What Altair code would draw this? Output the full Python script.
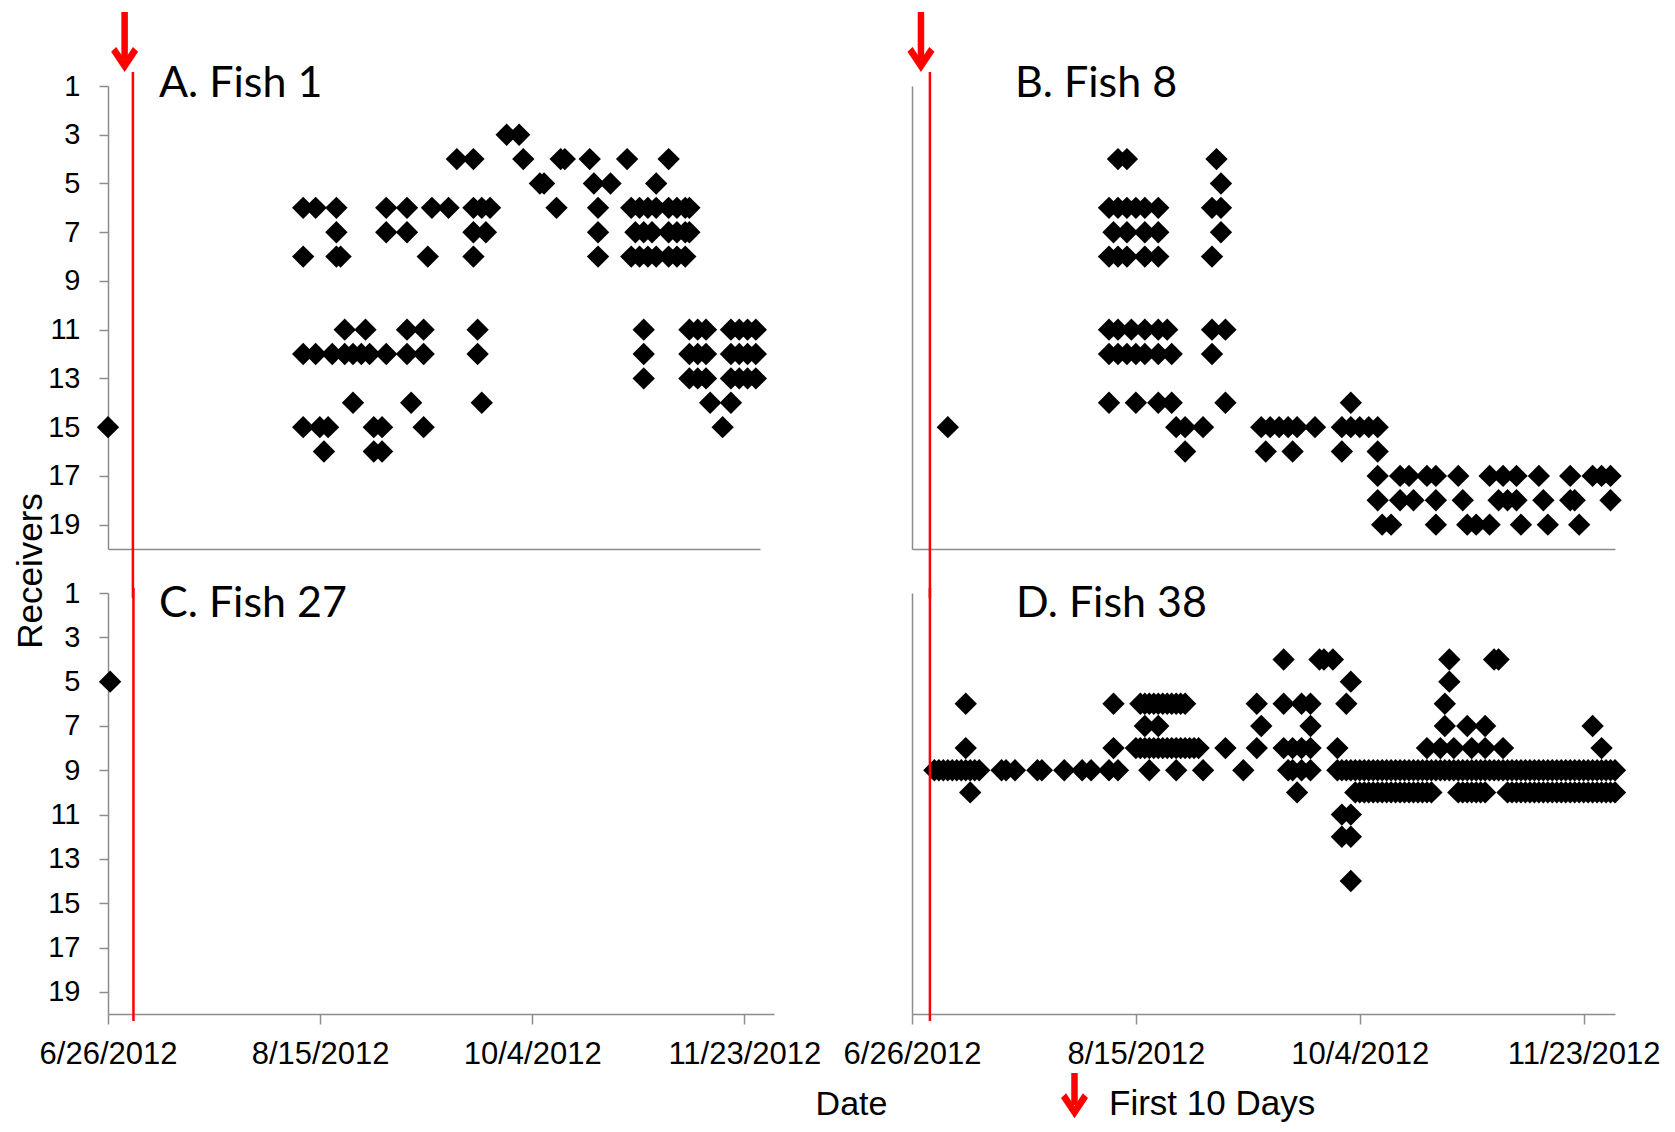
import altair as alt
import pandas as pd

# ---------------- data ----------------
START_DATE = "2012-06-26"
AXIS_END_DATE = "2012-11-30"
DATE_TICKS = ["2012-06-26", "2012-08-15", "2012-10-04", "2012-11-23"]
RECEIVER_TICKS = [1, 3, 5, 7, 9, 11, 13, 15, 17, 19]
PANEL_TITLES = ["A. Fish 1", "B. Fish 8", "C. Fish 27", "D. Fish 38"]

# detections: receiver -> days since 6/26/2012
FISH_1 = {
    3: [96, 99],
    4: [84, 88, 100, 109, 110, 116, 125, 135],
    5: [104, 105, 117, 121, 132],
    6: [47, 50, 55, 67, 72, 78, 82, 88, 90, 92, 108, 118, 126, 128, 130, 132, 135, 137, 139, 140],
    7: [55, 67, 72, 88, 91, 118, 127, 129, 131, 135, 137, 139, 140],
    8: [47, 55, 56, 77, 88, 118, 126, 128, 130, 132, 135, 137, 139],
    11: [57, 62, 72, 76, 89, 129, 140, 142, 144, 150, 152, 154, 156],
    12: [47, 50, 54, 57, 59, 61, 63, 67, 72, 76, 89, 129, 140, 142, 144, 150, 152, 154, 156],
    13: [129, 140, 142, 144, 150, 152, 154, 156],
    14: [59, 73, 90, 145, 150],
    15: [0, 47, 51, 53, 64, 66, 76, 148],
    16: [52, 64, 66],
}
FISH_8 = {
    4: [46, 48, 68],
    5: [69],
    6: [44, 46, 48, 50, 52, 55, 67, 69],
    7: [45, 48, 52, 55, 69],
    8: [44, 46, 48, 52, 55, 67],
    11: [44, 46, 49, 52, 55, 57, 67, 70],
    12: [44, 46, 48, 50, 52, 55, 58, 67],
    14: [44, 50, 55, 58, 70, 98],
    15: [8, 59, 61, 65, 78, 80, 82, 84, 86, 90, 96, 98, 100, 102, 104],
    16: [61, 79, 85, 96, 104],
    17: [104, 109, 111, 115, 117, 122, 129, 132, 135, 140, 147, 152, 154, 156],
    18: [104, 109, 112, 117, 123, 131, 133, 135, 141, 147, 148, 156],
    19: [105, 107, 117, 124, 126, 129, 136, 142, 149],
}
FISH_27 = {
    5: [0.5],
}
FISH_38 = {
    4: [83, 91, 92, 94, 120, 130, 131],
    5: [98, 120],
    6: [12, 45, 51, 52, 53, 54, 55, 56, 57, 58, 59, 60, 61, 77, 83, 87, 89, 97, 119],
    7: [52, 55, 78, 89, 119, 124, 128, 152],
    8: [12, 45, 50, 51, 52, 53, 54, 55, 56, 57, 58, 59, 60, 61, 62, 63, 64, 70, 77,
        83, 85, 87, 89, 95, 115, 118, 121, 125, 128, 132, 154],
    9: [5, 6, 7, 8, 9, 10, 11, 12, 13, 14, 15, 20, 21, 23, 28, 29, 34, 38, 40, 44, 46,
        53, 59, 65, 74, 84, 85, 87, 89,
        95, 96, 97, 98, 99, 100, 101, 102, 103, 104, 105, 106, 107, 108, 109, 110,
        111, 112, 113, 114, 115, 116, 117, 118, 119, 120, 121, 122, 123, 124, 125,
        126, 127, 128, 129, 130, 131, 132, 133, 134, 135, 136, 137, 138, 139, 140,
        141, 142, 143, 144, 145, 146, 147, 148, 149, 150, 151, 152, 153, 154, 155,
        156, 157],
    10: [13, 86,
         99, 100, 101, 102, 103, 104, 105, 106, 107, 108, 109, 110, 111, 112, 113,
         114, 115, 116,
         122, 123, 124, 125, 126, 127, 128,
         133, 134, 135, 136, 137, 138, 139, 140, 141, 142, 143, 144, 145, 146, 147,
         148, 149, 150, 151, 152, 153, 154, 155, 156, 157],
    11: [96, 98],
    12: [96, 98],
    14: [98],
}

# red "first 10 days" markers (dates)
RED_LINE_DATES = ["2012-07-02", "2012-06-30"]   # left column, right column
RED_ARROW_DATES = ["2012-06-30", "2012-06-28"]

# ---------------- helpers ----------------
GRAY = "#8c8c8c"
RED = "#ff0000"
LABEL_FONT = "Liberation Sans"
TITLE_FONT = "Lato"
ARROW_HEAD = "M-1,-0.55L-0.62,-0.9L0,0.03L0.62,-0.9L1,-0.55L0,0.95Z"


def iso(ts):
    return ts.strftime("%Y-%m-%dT%H:%M:%SZ")


def to_frame(days_by_receiver):
    start = pd.Timestamp(START_DATE)
    rows = []
    for rec, days in days_by_receiver.items():
        for d in days:
            rows.append({"date": iso(start + pd.Timedelta(days=d)), "receiver": rec})
    return pd.DataFrame(rows)


def one_date(s):
    return pd.DataFrame({"date": [iso(pd.Timestamp(s))]})


def ms(s):
    return int(pd.Timestamp(s, tz="UTC").value // 10**6)


XS = alt.Scale(type="utc", domain=[ms(START_DATE), ms(AXIS_END_DATE)], nice=False)
YS = alt.Scale(domain=[1, 20], reverse=True, nice=False, zero=False)

Y_FULL = alt.Axis(values=RECEIVER_TICKS, labelFont=LABEL_FONT, labelFontSize=29,
                  labelColor="black", labelPadding=19, tickSize=9, tickColor=GRAY,
                  tickWidth=1.5, domainColor=GRAY, domainWidth=1.5, grid=False,
                  title=None, labelFlush=False, labelOverlap=False)
Y_BARE = alt.Axis(labels=False, ticks=False, domainColor=GRAY, domainWidth=1.5,
                  grid=False, title=None)
X_FULL = alt.Axis(values=[ms(s) for s in DATE_TICKS],
                  labelExpr="utcFormat(datum.value, '%-m/%-d/%Y')",
                  labelFont=LABEL_FONT, labelFontSize=31,
                  labelColor="black", labelPadding=15, tickSize=10, tickColor=GRAY,
                  tickWidth=1.5, domainColor=GRAY, domainWidth=1.5, grid=False,
                  title=None, labelFlush=False, labelOverlap=False)
X_BARE = alt.Axis(labels=False, ticks=False, domainColor=GRAY, domainWidth=1.5,
                  grid=False, title=None)

DUMMY = pd.DataFrame({"t": [0]})


def text(label, x, y, size, font=LABEL_FONT, align="left", angle=0):
    return alt.Chart(pd.DataFrame({"t": [label]})).mark_text(
        font=font, fontSize=size, align=align, baseline="alphabetic",
        angle=angle, color="black").encode(text="t:N", x=alt.value(x), y=alt.value(y))


def panel(days, width, height, title, tx, ty, y_axis, x_axis, line_date,
          line_y, line_y2, arrow_date=None, extras=()):
    pts = alt.Chart(to_frame(days)).mark_point(
        shape="diamond", filled=True, size=500, color="black", opacity=1,
        strokeWidth=0).encode(
        x=alt.X("date:T", scale=XS, axis=x_axis),
        y=alt.Y("receiver:Q", scale=YS, axis=y_axis))
    line = alt.Chart(one_date(line_date)).mark_rule(color=RED, strokeWidth=2.5).encode(
        x=alt.X("date:T", scale=XS, axis=x_axis),
        y=alt.value(line_y), y2=alt.value(line_y2))
    layers = [pts, line]
    if arrow_date is not None:
        shaft = alt.Chart(one_date(arrow_date)).mark_rule(color=RED, strokeWidth=6.5).encode(
            x=alt.X("date:T", scale=XS, axis=x_axis),
            y=alt.value(-74), y2=alt.value(-27))
        head = alt.Chart(one_date(arrow_date)).mark_point(
            shape=ARROW_HEAD, filled=True, size=729, color=RED, opacity=1,
            strokeWidth=0).encode(
            x=alt.X("date:T", scale=XS, axis=x_axis), y=alt.value(-26.8))
        layers += [shaft, head]
    layers.append(text(title, tx, ty, 43, font=TITLE_FONT))
    layers += list(extras)
    return alt.layer(*layers).properties(width=width, height=height)


# anchor so the page origin matches the reference frame
anchor = alt.Chart(DUMMY).mark_rule(strokeOpacity=0).encode(
    x=alt.value(-100), y=alt.value(-78), x2=alt.value(-100), y2=alt.value(-78))

receivers_title = text("Receivers", -66, 485, 35, align="center", angle=270)
date_title = text("Date", 743.5, 521.5, 34, align="center")
legend_text = text("First 10 Days", 197, 521.5, 35)
legend_shaft = alt.Chart(DUMMY).mark_rule(color=RED, strokeWidth=6.5).encode(
    x=alt.value(162.5), y=alt.value(480), y2=alt.value(512))
legend_head = alt.Chart(DUMMY).mark_point(
    shape=ARROW_HEAD, filled=True, size=729, color=RED, opacity=1, strokeWidth=0).encode(
    x=alt.value(162.5), y=alt.value(512.5))

pA = panel(FISH_1, 652, 463, PANEL_TITLES[0], 51, 11, Y_FULL, X_BARE,
           RED_LINE_DATES[0], -14, 512, RED_ARROW_DATES[0],
           extras=(anchor, receivers_title))
pB = panel(FISH_8, 703, 463, PANEL_TITLES[1], 103, 11, Y_BARE, X_BARE,
           RED_LINE_DATES[1], -14, 512, RED_ARROW_DATES[1])
pC = panel(FISH_27, 666, 421, PANEL_TITLES[2], 51, 23.5, Y_FULL, X_FULL,
           RED_LINE_DATES[0], -5, 428, extras=(date_title,))
pD = panel(FISH_38, 703, 421, PANEL_TITLES[3], 104, 23.5, Y_BARE, X_FULL,
           RED_LINE_DATES[1], -5, 428, extras=(legend_shaft, legend_head, legend_text))

try:
    SPACING = alt.RowColnumber(row=44, column=138)
except AttributeError:
    SPACING = {"row": 44, "column": 138}

chart = alt.concat(pA, pB, pC, pD, columns=2, spacing=SPACING, bounds="flush",
                   align="each", padding=0, background="white").configure_view(
    stroke="transparent", strokeWidth=0)

chart.save("out.html", embed_options={"renderer": "svg", "actions": False})
